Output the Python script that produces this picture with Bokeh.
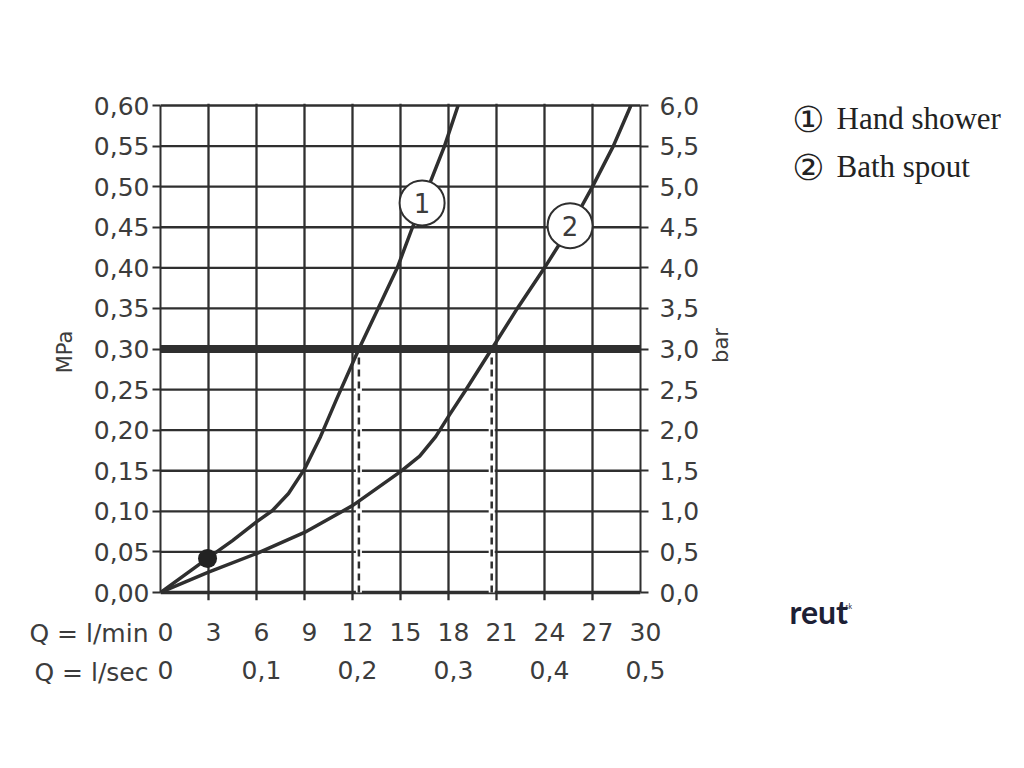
from bokeh.plotting import figure
from bokeh.layouts import row, column
from bokeh.models import Range1d, LinearAxis, FixedTicker, Span, Grid
from bokeh.embed import file_html
from bokeh.resources import INLINE
from bokeh.core.properties import value
import math

# ---------------- data ----------------
q_min_ticks = [0, 3, 6, 9, 12, 15, 18, 21, 24, 27, 30]
q_min_labels = ["0", "3", "6", "9", "12", "15", "18", "21", "24", "27", "30"]
q_sec_ticks = [0, 6, 12, 18, 24, 30]
q_sec_labels = ["0", "0,1", "0,2", "0,3", "0,4", "0,5"]
mpa_ticks = [0.0, 0.05, 0.1, 0.15, 0.2, 0.25, 0.3, 0.35, 0.4, 0.45, 0.5, 0.55, 0.6]
mpa_labels = ["0,00", "0,05", "0,10", "0,15", "0,20", "0,25", "0,30",
              "0,35", "0,40", "0,45", "0,50", "0,55", "0,60"]
bar_ticks = [0.0, 0.5, 1.0, 1.5, 2.0, 2.5, 3.0, 3.5, 4.0, 4.5, 5.0, 5.5, 6.0]
bar_labels = ["0,0", "0,5", "1,0", "1,5", "2,0", "2,5", "3,0",
              "3,5", "4,0", "4,5", "5,0", "5,5", "6,0"]

hand_q = [0, 2.94, 4.5, 6.0, 7.0, 8.0, 9.0, 10.0, 11.0, 12.4,
          13.6, 14.8, 15.75, 16.75, 17.75, 18.6]
hand_p = [0, 0.042, 0.064, 0.087, 0.101, 0.122, 0.152, 0.192, 0.238, 0.30,
          0.35, 0.40, 0.45, 0.50, 0.55, 0.60]
bath_q = [0, 3, 6, 9, 12, 15, 16.2, 17.2, 18.1, 19.1, 20.7, 22.3, 24.0, 25.6, 27.0, 28.3, 29.4]
bath_p = [0, 0.025, 0.048, 0.074, 0.107, 0.149, 0.168, 0.192, 0.220, 0.25, 0.30,
          0.35, 0.40, 0.45, 0.50, 0.55, 0.60]

min_flow_q = [2.94]
min_flow_p = [0.042]
ref_pressure = 0.30
ref_flow_q = [12.4, 20.7]
curve_tag_q = [16.35, 25.6]
curve_tag_p = [0.48, 0.452]
curve_tag_text = ["1", "2"]
legend_symbols = ["\u2460", "\u2461"]
legend_names = ["Hand shower", "Bath spout"]
row_titles = ["Q = l/min", "Q = l/sec"]

INK = "#2f2f2f"
TXT = "#3c3c3c"
FONT = "DejaVu Sans"
FS = "25px"

PX_PER_MPA = 487 / 0.6
TICK_LEN = 8   # tick marks below the x axis are the vertical grid lines run past 0
TOP_PAD = 2    # room so the top grid line is not cut by the frame
Y_LOW = -TICK_LEN / PX_PER_MPA
Y_HIGH = 0.6 + TOP_PAD / PX_PER_MPA


def plain(fig):
    fig.outline_line_color = None
    for g in fig.grid:
        g.visible = False
    return fig


# ---------------- main chart ----------------
p = figure(frame_width=480, frame_height=487 + TICK_LEN + TOP_PAD,
           x_range=Range1d(0, 30), y_range=Range1d(Y_LOW, Y_HIGH),
           output_backend="svg", toolbar_location=None,
           x_axis_location=None, y_axis_location=None,
           min_border_left=160, min_border_right=64, min_border_top=105 - TOP_PAD,
           min_border_bottom=8,
           background_fill_color="white", border_fill_color="white")
plain(p)

# vertical grid lines (also form the x tick marks below the axis)
p.add_layout(Grid(dimension=0, ticker=FixedTicker(ticks=q_min_ticks),
                  grid_line_color=INK, grid_line_width=2.3))
# horizontal grid lines, one per pressure tick
for t in mpa_ticks:
    p.add_layout(Span(location=t, dimension="width", line_color=INK, line_width=2.3,
                      level="underlay"))


def style_axis(ax):
    ax.major_label_text_font = FONT
    ax.major_label_text_font_size = FS
    ax.major_label_text_color = TXT
    ax.major_tick_line_color = INK
    ax.major_tick_line_width = 2
    ax.minor_tick_line_color = None
    ax.axis_line_color = INK
    ax.axis_line_width = 2


left = LinearAxis(ticker=FixedTicker(ticks=mpa_ticks),
                  major_label_overrides=dict(zip(mpa_ticks, mpa_labels)),
                  axis_label="MPa", bounds=(0, 0.6))
style_axis(left)
left.major_tick_out = 8
left.major_tick_in = 0
left.major_label_standoff = 3
left.axis_label_text_font = FONT
left.axis_label_text_font_size = "21px"
left.axis_label_text_font_style = "normal"
left.axis_label_text_color = TXT
left.axis_label_standoff = 14
p.add_layout(left, "left")

p.extra_y_ranges = {"bar": Range1d(Y_LOW * 10, Y_HIGH * 10)}
right = LinearAxis(y_range_name="bar", ticker=FixedTicker(ticks=bar_ticks),
                   major_label_overrides=dict(zip(bar_ticks, bar_labels)), bounds=(0, 6))
style_axis(right)
right.major_tick_out = 8
right.major_tick_in = 0
right.major_label_standoff = 11
p.add_layout(right, "right")

# x axis base line (heavier)
p.add_layout(Span(location=0, dimension="width", line_color=INK, line_width=3.5,
                  level="underlay"))
# reference pressure (3 bar)
p.add_layout(Span(location=ref_pressure, dimension="width", line_color=INK, line_width=8))

n = len(ref_flow_q)
p.segment(x0=ref_flow_q, y0=[0] * n, x1=ref_flow_q, y1=[ref_pressure] * n,
          line_color="white", line_width=6)
p.segment(x0=ref_flow_q, y0=[0] * n, x1=ref_flow_q, y1=[ref_pressure] * n,
          line_color=INK, line_width=2.5, line_dash="7 5")

p.line(hand_q, hand_p, line_color=INK, line_width=3.5, line_join="round")
p.line(bath_q, bath_p, line_color=INK, line_width=3.5, line_join="round")

p.scatter(min_flow_q, min_flow_p, size=19, fill_color="#222222", line_color=None)

p.scatter(curve_tag_q, curve_tag_p, size=45, fill_color="white", line_color=INK, line_width=2)
p.text(curve_tag_q, curve_tag_p, text=curve_tag_text, text_align="center",
       text_baseline="middle", text_font=value(FONT), text_font_size="26px",
       text_color=TXT)

TOP_H = 105 + 487 + TICK_LEN + 8  # height of main chart figure

# ---------------- flow rows (below chart) ----------------
qt = figure(frame_width=152, frame_height=100, x_range=Range1d(0, 152),
            y_range=Range1d(TOP_H + 100, TOP_H),
            output_backend="svg", toolbar_location=None,
            x_axis_location=None, y_axis_location=None,
            min_border_left=0, min_border_right=0, min_border_top=0, min_border_bottom=0,
            background_fill_color="white", border_fill_color="white")
plain(qt)
qt.text(x=[148, 148], y=[633, 672], text=row_titles, text_align="right",
        text_baseline="middle", text_font=value(FONT), text_font_size=FS, text_color=TXT)

qa = figure(frame_width=480, frame_height=2, x_range=p.x_range, y_range=Range1d(0, 1),
            output_backend="svg", toolbar_location=None,
            x_axis_location=None, y_axis_location=None,
            min_border_left=13, min_border_right=59, min_border_top=0, min_border_bottom=98,
            background_fill_color="white", border_fill_color="white")
plain(qa)

ax1 = LinearAxis(ticker=FixedTicker(ticks=q_min_ticks),
                 major_label_overrides=dict(zip(q_min_ticks, q_min_labels)))
style_axis(ax1)
ax1.axis_line_color = None
ax1.major_tick_line_color = None
ax1.major_tick_out = 0
ax1.major_tick_in = 0
ax1.major_label_standoff = 12
qa.add_layout(ax1, "below")

ax2 = LinearAxis(ticker=FixedTicker(ticks=q_sec_ticks),
                 major_label_overrides=dict(zip(q_sec_ticks, q_sec_labels)))
style_axis(ax2)
ax2.axis_line_color = None
ax2.major_tick_line_color = None
ax2.major_tick_out = 0
ax2.major_tick_in = 0
ax2.major_label_standoff = 17
qa.add_layout(ax2, "below")

# ---------------- side panel: unit, legend, logo ----------------
SIDE_H = TOP_H + 100
side = figure(frame_width=320, frame_height=SIDE_H, x_range=Range1d(704, 1024),
              y_range=Range1d(SIDE_H, 0),
              output_backend="svg", toolbar_location=None,
              x_axis_location=None, y_axis_location=None,
              min_border_left=0, min_border_right=0, min_border_top=0, min_border_bottom=0,
              background_fill_color="white", border_fill_color="white")
plain(side)
side.text(x=[720], y=[345], text=["bar"], angle=math.pi / 2, text_align="center",
          text_baseline="middle", text_font=value(FONT), text_font_size="21px", text_color=TXT)
side.text(x=[808, 808], y=[119, 167], text=legend_symbols, text_align="center",
          text_baseline="middle", text_font=value("DejaVu Sans"), text_font_size="36px",
          text_color="#222222")
side.text(x=[836, 836], y=[118, 166], text=legend_names, text_align="left",
          text_baseline="middle", text_font=value("Liberation Serif"), text_font_size="31px",
          text_color="#222222")
side.text(x=[789], y=[611], text=["reut"], text_align="left", text_baseline="middle",
          text_font=value("Lato"), text_font_style="bold", text_font_size="32px",
          text_color="#1c2035")
side.text(x=[845], y=[605], text=["sk"], text_align="left", text_baseline="middle",
          text_font=value("Lato"), text_font_size="7px", text_color="#1c2035")

layout = row(column(p, row(qt, qa, spacing=0), spacing=0), side, spacing=0)

open("out.html", "w").write(file_html(layout, INLINE))
